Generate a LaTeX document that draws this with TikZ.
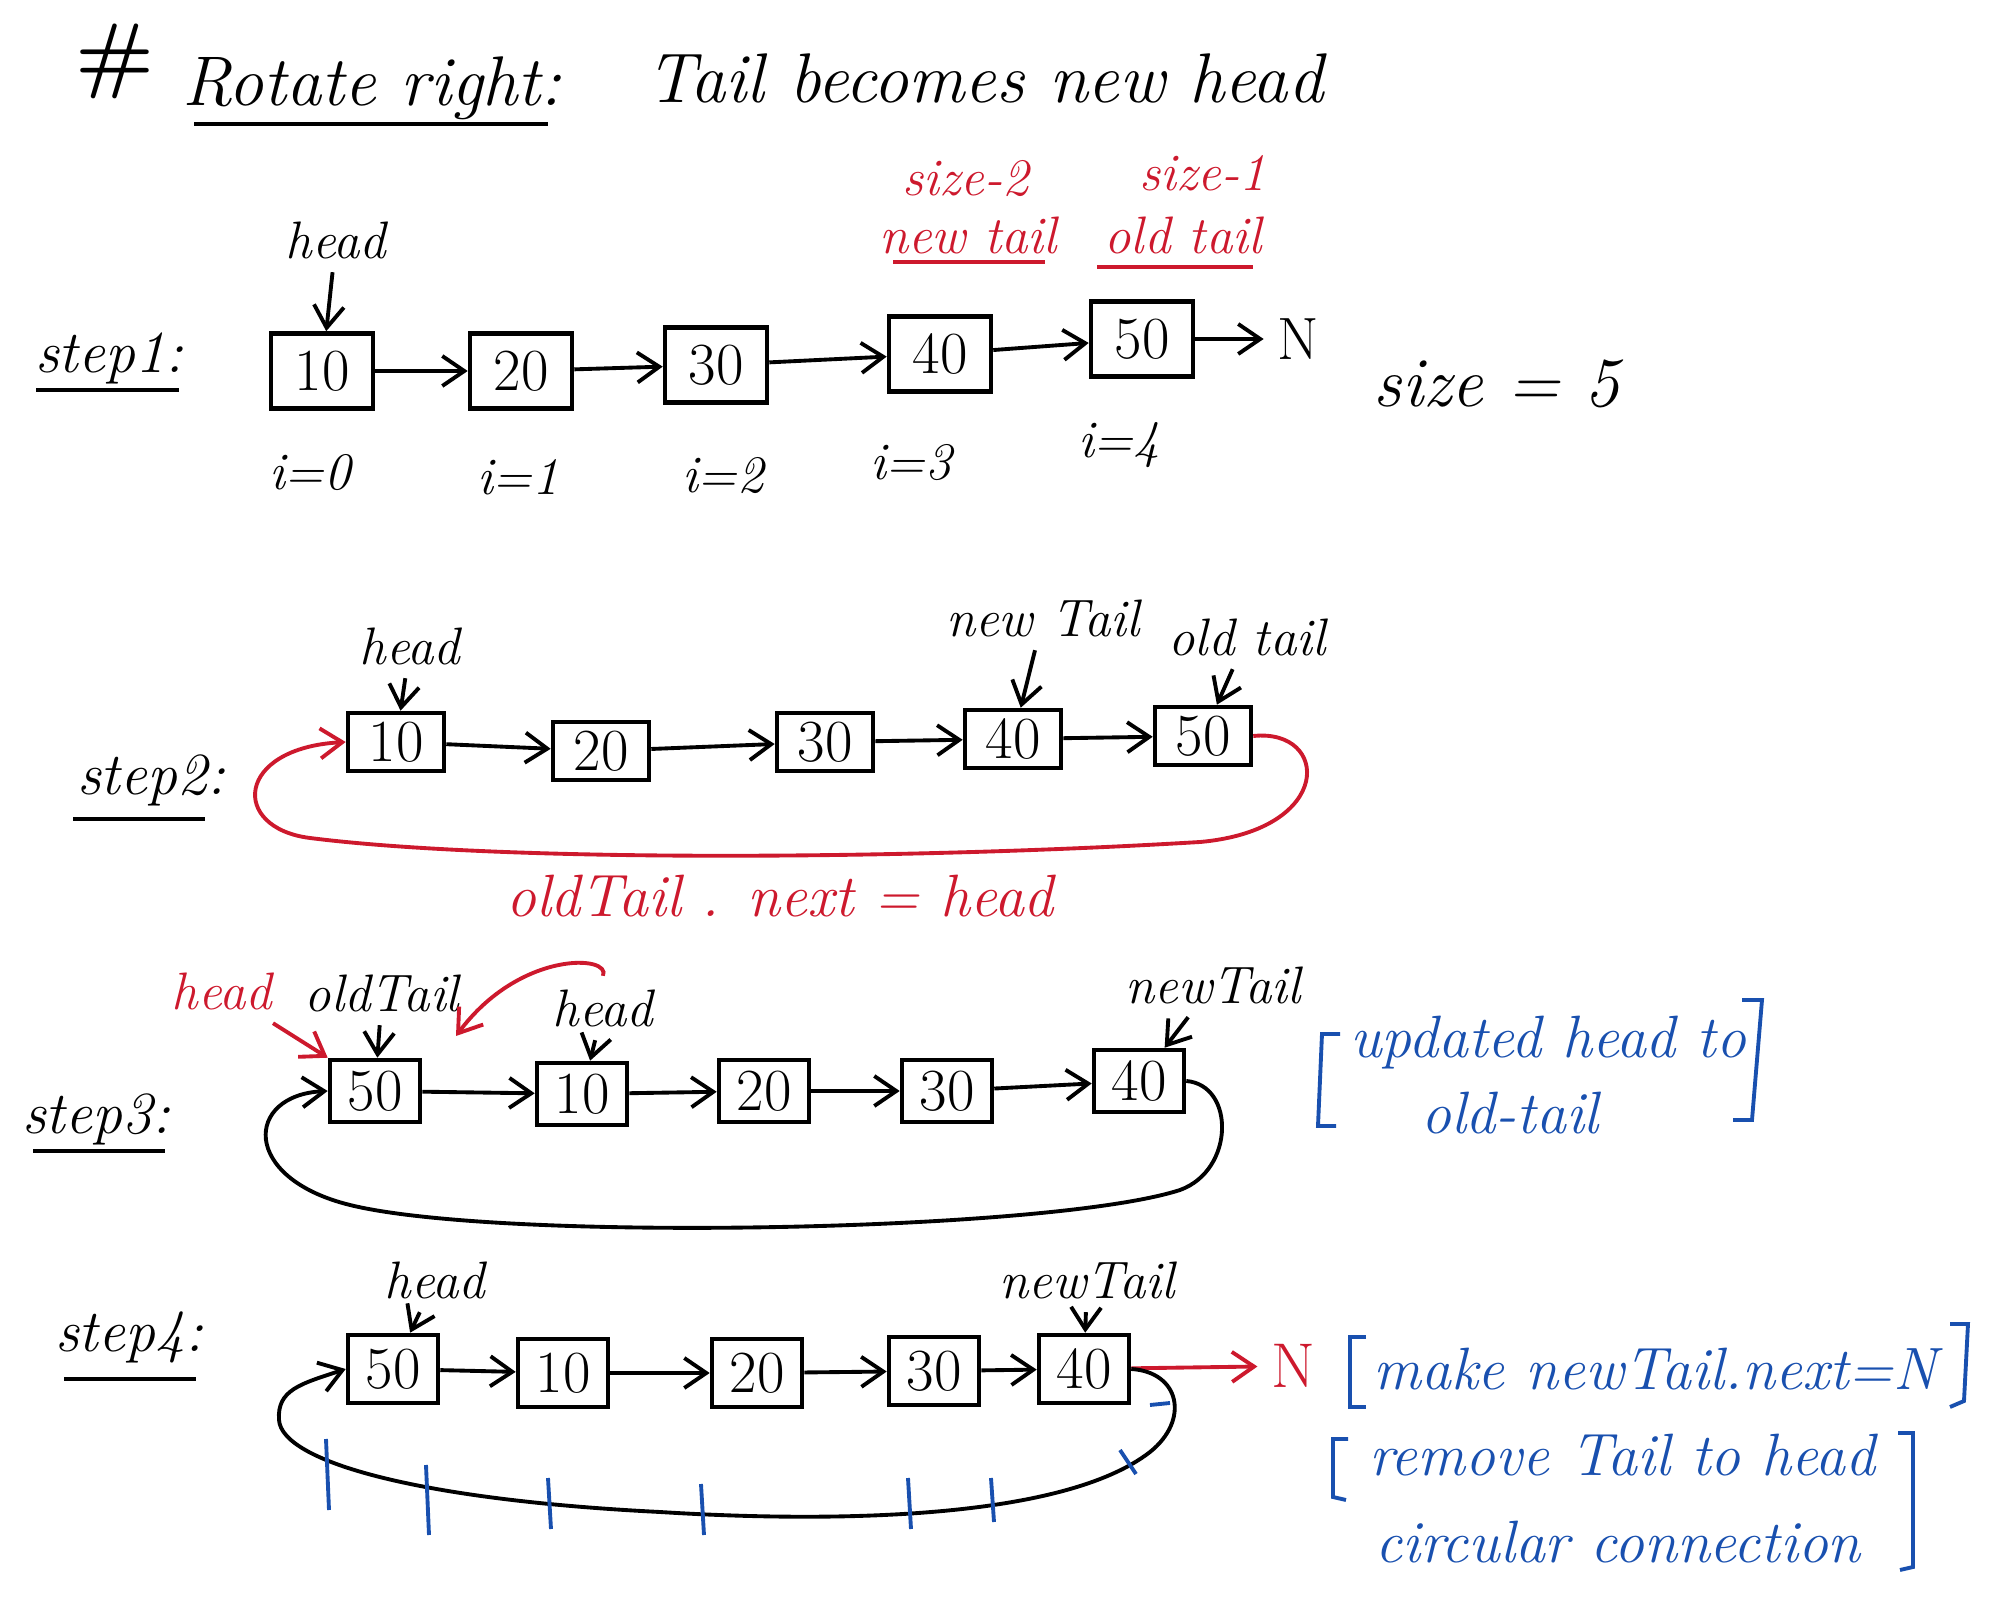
\documentclass[tikz,border=0pt]{standalone}
\usetikzlibrary{arrows.meta}
\definecolor{inkred}{RGB}{205,25,45}
\definecolor{inkblue}{RGB}{25,80,175}

\begin{document}
\begin{tikzpicture}[x=0.1mm, y=-0.1mm,
            line width=1.1pt,
            every node/.style={font=\fontsize{15}{17}\selectfont\itshape},
            box/.style={draw, line width=1.3pt, inner sep=1pt, minimum width=9.5mm, minimum height=6.5mm,
                        font=\fontsize{17}{19}\selectfont},
            nxt/.style={-{Straight Barb[length=2.2mm,width=3mm]}},
            steplbl/.style={font=\fontsize{17}{19}\selectfont\itshape},
            note/.style={color=inkblue, font=\fontsize{17}{19}\selectfont\itshape},
            ]
            \useasboundingbox (0,0) rectangle (2006,1607);

            % title
            \node[font=\fontsize{24}{26}\selectfont\bfseries] (hash) at (115,61) {\#};
            \node[font=\fontsize{20}{24}\selectfont\itshape] (ttl) at (372,88) {Rotate right:};
            \draw (194,124) -- (548,124);
            \node[font=\fontsize{20}{24}\selectfont\itshape] (ttl2) at (985,78) {Tail becomes new head};

            % step 1
            \node[steplbl] (s1) at (109,358) {step1:};
            \draw (36,390) -- (179,390);
            \begin{scope}[box/.append style={minimum width=10.2mm, minimum height=7.5mm}]
                \node[box] (a10) at (322,371) {10};
                \node[box] (a20) at (521,371) {20};
                \node[box] (a30) at (716,365) {30};
                \node[box] (a40) at (940,354) {40};
                \node[box] (a50) at (1142,339) {50};
            \end{scope}
            \node[font=\fontsize{17}{19}\selectfont] (aN) at (1298,339) {N};
            \draw[nxt] (a10) -- (a20);
            \draw[nxt] (a20) -- (a30);
            \draw[nxt] (a30) -- (a40);
            \draw[nxt] (a40) -- (a50);
            \draw[nxt] (a50) -- (aN);
            \node (ahead) at (336,240) {head};
            \draw[nxt] (ahead) -- (a10);
            \node (ai0) at (310,473) {i=0};
            \node (ai1) at (518,477) {i=1};
            \node (ai2) at (723,476) {i=2};
            \node (ai3) at (911,463) {i=3};
            \node (ai4) at (1119,445) {i=4};
            \node[color=inkred] (asz2) at (966,179) {size-2};
            \node[color=inkred] (anew) at (968,235) {new tail};
            \draw[inkred] (893,262) -- (1045,262);
            \node[color=inkred] (asz1) at (1203,173) {size-1};
            \node[color=inkred] (aold) at (1183,235) {old tail};
            \draw[inkred] (1097,267) -- (1253,267);
            \node[font=\fontsize{20}{24}\selectfont\itshape] (asize) at (1497,384) {size = 5};

            % step 2
            \node[steplbl] (s2) at (151,780) {step2:};
            \draw (73,819) -- (205,819);
            \begin{scope}[box/.append style={minimum width=9.6mm, minimum height=5.8mm}]
                \node[box] (b10) at (396,742) {10};
                \node[box] (b20) at (601,751) {20};
                \node[box] (b30) at (825,742) {30};
                \node[box] (b40) at (1013,739) {40};
                \node[box] (b50) at (1203,736) {50};
            \end{scope}
            \draw[nxt] (b10) -- (b20);
            \draw[nxt] (b20) -- (b30);
            \draw[nxt] (b30) -- (b40);
            \draw[nxt] (b40) -- (b50);
            \node (bhead) at (410,646) {head};
            \draw[nxt] (bhead) -- (b10);
            \node (bnew) at (1043,618) {new Tail};
            \draw[nxt] (bnew) -- (b40);
            \node (bold) at (1247,637) {old tail};
            \draw[nxt] (bold) -- (b50);
            \draw[inkred, nxt] (b50.east) .. controls (1330,728) and (1335,830) .. (1200,842)
                .. controls (900,860) and (500,862) .. (310,838)
                .. controls (230,828) and (235,748) .. (b10.west);
            \node[color=inkred, font=\fontsize{17}{19}\selectfont\itshape] (bnote) at (780,896) {oldTail . next = head};

            % step 3
            \node[steplbl] (s3) at (96,1119) {step3:};
            \draw (33,1151) -- (165,1151);
            \begin{scope}[box/.append style={minimum width=9mm, minimum height=6.2mm}]
                \node[box] (c50) at (375,1091) {50};
                \node[box] (c10) at (582,1094) {10};
                \node[box] (c20) at (764,1091) {20};
                \node[box] (c30) at (947,1091) {30};
                \node[box] (c40) at (1139,1081) {40};
            \end{scope}
            \draw[nxt] (c50) -- (c10);
            \draw[nxt] (c10) -- (c20);
            \draw[nxt] (c20) -- (c30);
            \draw[nxt] (c30) -- (c40);
            \node[color=inkred] (credhead) at (222,991) {head};
            \node (cold) at (382,993) {oldTail};
            \node (chead) at (603,1008) {head};
            \node (cnew) at (1213,985) {newTail};
            \draw[nxt] (cold) -- (c50);
            \draw[nxt] (chead) -- (c10);
            \draw[nxt] (cnew) -- (c40);
            \draw[inkred, nxt] (credhead) -- (c50.north west);
            \coordinate (ctip) at (456,1036);
            \draw[inkred, nxt] (chead.north) .. controls (612,955) and (520,950) .. (ctip);
            \draw[nxt] (c40.east) .. controls (1235,1085) and (1235,1170) .. (1180,1190)
                .. controls (1050,1232) and (500,1242) .. (350,1205)
                .. controls (240,1178) and (245,1095) .. (c50.west);
            \node[note] (cnote1) at (1548,1043) {updated head to};
            \node[note] (cnote2) at (1510,1113) {old-tail};
            \draw[inkblue] (1340,1034) -- (1322,1034) -- (1318,1126) -- (1336,1126);
            \draw[inkblue] (1742,1000) -- (1762,1000) -- (1752,1120) -- (1733,1120);

            % step 4
            \node[steplbl] (s4) at (129,1337) {step4:};
            \draw (64,1379) -- (196,1379);
            \begin{scope}[box/.append style={minimum width=9mm, minimum height=6.8mm}]
                \node[box] (d50) at (393,1369) {50};
                \node[box] (d10) at (563,1373) {10};
                \node[box] (d20) at (757,1373) {20};
                \node[box] (d30) at (934,1371) {30};
                \node[box] (d40) at (1084,1369) {40};
            \end{scope}
            \draw[nxt] (d50) -- (d10);
            \draw[nxt] (d10) -- (d20);
            \draw[nxt] (d20) -- (d30);
            \draw[nxt] (d30) -- (d40);
            \node (dhead) at (435,1280) {head};
            \node (dnew) at (1087,1280) {newTail};
            \draw[nxt] (dhead) -- (d50);
            \draw[nxt] (dnew) -- (d40);
            \node[color=inkred, font=\fontsize{18}{20}\selectfont] (dN) at (1293,1366) {N};
            \draw[inkred, nxt] (d40) -- (dN);
            \draw[nxt] (d40.east) .. controls (1180,1372) and (1190,1420) .. (1150,1452)
                .. controls (1060,1522) and (820,1522) .. (660,1512)
                .. controls (420,1500) and (282,1462) .. (279,1420)
                .. controls (277,1390) and (300,1384) .. (d50.west);
            \foreach \x/\ya/\yb in {326/1439/1510, 426/1465/1535, 548/1478/1529,
                                    701/1484/1535, 908/1478/1529, 991/1478/1522}
                \draw[inkblue] (\x,\ya) -- (\x+3,\yb);
            \draw[inkblue] (1120,1450) -- (1136,1474);
            \draw[inkblue] (1150,1405) -- (1170,1403);
            \node[note] (dnote1) at (1655,1369) {make newTail.next=N};
            \draw[inkblue] (1366,1337) -- (1350,1337) -- (1350,1407) -- (1366,1407);
            \draw[inkblue] (1950,1324) -- (1968,1324) -- (1964,1401) -- (1950,1407);
            \node[note] (dnote2) at (1622,1455) {remove Tail to head};
            \node[note] (dnote3) at (1618,1542) {circular connection};
            \draw[inkblue] (1348,1439) -- (1333,1439) -- (1333,1497) -- (1346,1500);
            \draw[inkblue] (1898,1433) -- (1913,1433) -- (1913,1567) -- (1900,1570);
\end{tikzpicture}
\end{document}
